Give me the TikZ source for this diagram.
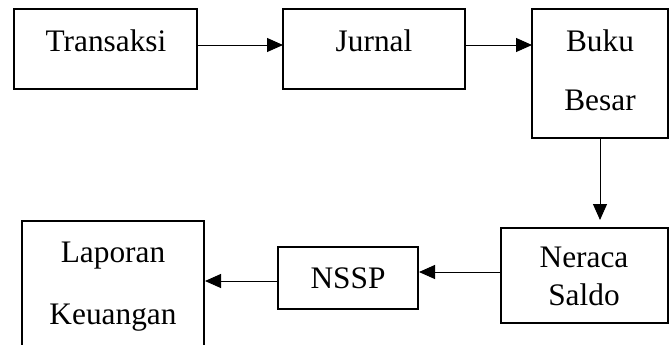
\documentclass[tikz,border=0pt]{standalone}
\usepackage{fontspec}
\setmainfont{Liberation Serif}
\usetikzlibrary{arrows.meta}
\begin{document}
\begin{tikzpicture}[x=0.75pt,y=-0.75pt,
  box/.style={draw,line width=1.5pt},
  lbl/.style={anchor=base,inner sep=0pt,font=\fontsize{23.5}{28}\selectfont},
  conn/.style={line width=0.75pt,-{Triangle[length=12pt,width=10.5pt]}}]
\useasboundingbox (0,0) rectangle (670,344);
% boxes
\draw[box] (14,9) rectangle (197,89);
\draw[box] (283,9) rectangle (465,89);
\draw[box] (532,9) rectangle (668,138);
\draw[box] (501,228) rectangle (668,323);
\draw[box] (278,247) rectangle (418,309);
\draw[box] (22,221) rectangle (204,360);
% labels
\node[lbl] (t) at (106,51) {Transaksi};
\node[lbl] (j) at (374,51) {Jurnal};
\node[lbl] (bb1) at (600,51) {Buku};
\node[lbl] (bb2) at (600,110) {Besar};
\node[lbl] (ns1) at (584,267) {Neraca};
\node[lbl] (ns2) at (584,305) {Saldo};
\node[lbl] (nssp) at (348,288) {NSSP};
\node[lbl] (lk1) at (113,262) {Laporan};
\node[lbl] (lk2) at (113,324) {Keuangan};
% connector anchors
\coordinate (a1s) at (198,45); \coordinate (a1e) at (283,45);
\coordinate (a2s) at (466,45); \coordinate (a2e) at (532,45);
\coordinate (a3s) at (600,139); \coordinate (a3e) at (600,220);
\coordinate (a4s) at (500,272); \coordinate (a4e) at (419,272);
\coordinate (a5s) at (277,281); \coordinate (a5e) at (205,281);
\draw[conn] (a1s) -- (a1e);
\draw[conn] (a2s) -- (a2e);
\draw[conn] (a3s) -- (a3e);
\draw[conn] (a4s) -- (a4e);
\draw[conn] (a5s) -- (a5e);
\end{tikzpicture}
\end{document}
